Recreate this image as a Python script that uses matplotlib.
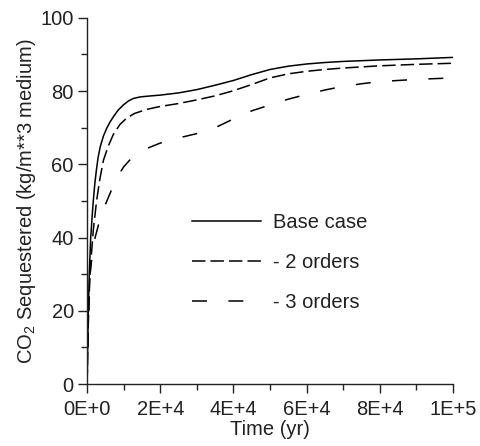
import numpy as np
import matplotlib
matplotlib.use("Agg")
import matplotlib.pyplot as plt
from matplotlib.ticker import MultipleLocator

plt.rcParams['font.family'] = ['Liberation Sans', 'DejaVu Sans']
plt.rcParams['mathtext.fontset'] = 'custom'
plt.rcParams['mathtext.rm'] = 'Liberation Sans'
plt.rcParams['mathtext.it'] = 'Liberation Sans'
plt.rcParams['mathtext.default'] = 'regular'

# CO2 sequestered vs time for the three permeability cases
base_t = [0, 300, 600, 1000, 1400, 1700, 2100, 2500, 3000, 3600, 4500, 5400, 6300,
          7200, 8500, 9900, 11300, 12700, 14500, 16500, 20000, 25000, 30000, 35000,
          40000, 45000, 50000, 55000, 60000, 65000, 70000, 80000, 90000, 100000]
base_y = [0, 18, 30, 40, 46, 50, 54.5, 58, 61.8, 64.8, 67.8, 69.9, 71.6,
          73.0, 74.8, 76.2, 77.3, 78.0, 78.4, 78.6, 78.9, 79.5, 80.4, 81.6,
          82.9, 84.5, 85.9, 86.8, 87.4, 87.8, 88.1, 88.5, 88.8, 89.2]

two_t = [0, 300, 600, 1000, 1700, 2600, 3500, 4500, 5800, 7200, 9000, 10800, 13000,
         16300, 20000, 25000, 30000, 35000, 40000, 45000, 50000, 55000, 60000,
         65000, 70000, 80000, 90000, 100000]
two_y = [0, 15, 25, 33, 42, 50, 56, 61.2, 65.0, 68.2, 70.9, 72.6, 73.9,
         75.0, 75.8, 76.6, 77.6, 78.7, 80.1, 81.8, 83.6, 84.7, 85.4,
         85.9, 86.3, 86.9, 87.3, 87.6]

three_t = [0, 400, 800, 1500, 2200, 3000, 4000, 5000, 6300, 8100, 10000, 11700,
           13300, 14900, 17000, 20000, 25000, 30900, 35000, 40000, 45000, 50800,
           55000, 60000, 65000, 69000, 75000, 80000, 90000, 100000]
three_y = [0, 18, 30, 36, 40, 43, 46.5, 49, 52.1, 56.3, 59.3, 61.2,
           62.5, 63.5, 64.6, 65.8, 67.2, 68.6, 70.0, 72.4, 74.6, 76.5,
           77.8, 79.1, 80.3, 81.1, 82.0, 82.6, 83.2, 83.6]

x_ticks = [0, 20000, 40000, 60000, 80000, 100000]
x_labels = ['0E+0', '2E+4', '4E+4', '6E+4', '8E+4', '1E+5']
y_ticks = [0, 20, 40, 60, 80, 100]

fig = plt.figure(figsize=(4.81, 4.46), dpi=100)
ax = fig.add_axes([0.181, 0.139, 0.761, 0.821])

lw = 1.1
ax.plot(base_t, base_y, color='black', lw=lw, label='Base case')
ax.plot(two_t, two_y, color='black', lw=lw, dashes=(8.8, 3.3), label='- 2 orders')
ax.plot(three_t, three_y, color='black', lw=lw, dashes=(9.8, 14.0), label='- 3 orders')

ax.set_xlim(0, 100000)
ax.set_ylim(0, 100)
ax.set_xticks(x_ticks)
ax.set_xticklabels(x_labels)
ax.set_yticks(y_ticks)
ax.xaxis.set_minor_locator(MultipleLocator(10000))
ax.yaxis.set_minor_locator(MultipleLocator(10))

for side in ['top', 'right']:
    ax.spines[side].set_visible(False)
for side in ['left', 'bottom']:
    ax.spines[side].set_linewidth(1.0)
    ax.spines[side].set_color('#222222')

ax.tick_params(which='major', direction='out', length=6.5, width=1.0,
               labelsize=14.5, color='#222222', labelcolor='#222222')
ax.tick_params(which='minor', direction='out', length=4.5, width=1.0, color='#222222')
ax.tick_params(axis='x', pad=5)
ax.tick_params(axis='y', pad=3)

ax.set_xlabel('Time (yr)', fontsize=14.5, labelpad=1, color='#222222')
ax.set_ylabel('CO$_2$ Sequestered (kg/m**3 medium)', fontsize=14.5, labelpad=2,
              color='#222222')

leg = ax.legend(loc='upper left', bbox_to_anchor=(0.286, 0.467), frameon=False,
                fontsize=14.5, handlelength=3.45, handletextpad=0.6,
                labelspacing=1.05, borderpad=0, borderaxespad=0)
for t in leg.get_texts():
    t.set_color('#222222')

fig.savefig('out.png', dpi=100)
